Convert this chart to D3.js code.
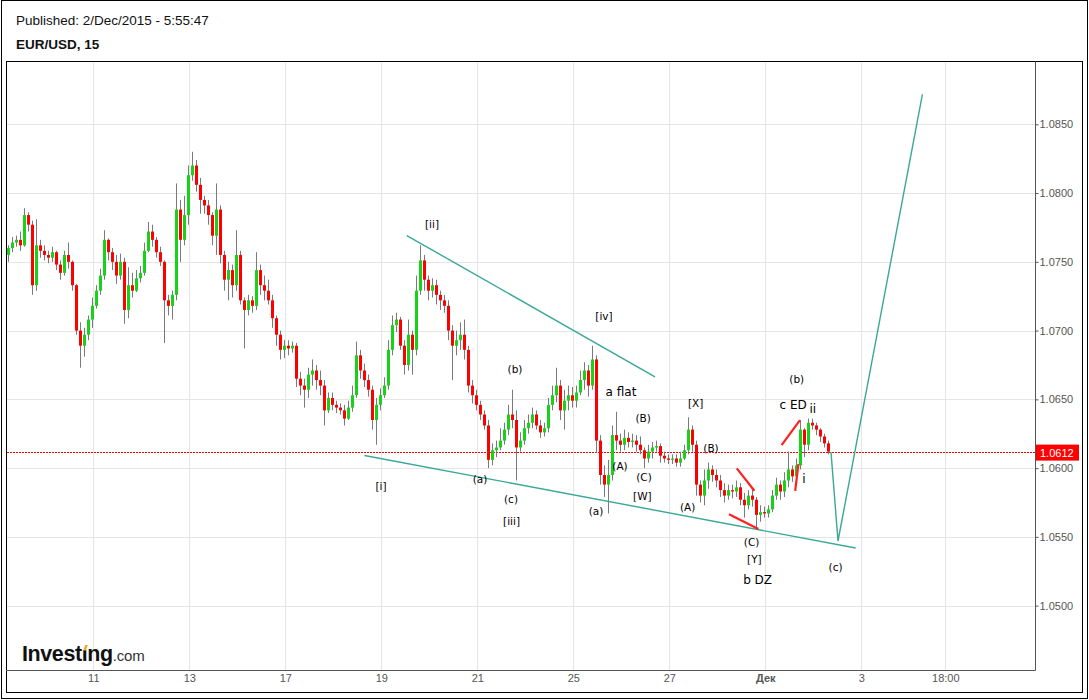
<!DOCTYPE html>
<html><head><meta charset="utf-8">
<script src="https://cdn.jsdelivr.net/npm/d3@7"></script>
<style>body{margin:0;background:#fff}svg{display:block}</style>
</head><body><svg id="c" width="1089" height="700"></svg>
<script>
// ---- DATA (EUR/USD; each bar = one slot) ----
const opens = [1.0755,1.0760,1.0764,1.0766,1.0762,1.0784,1.0777,1.0733,1.0762,1.0758,
1.0755,1.0753,1.0757,1.0748,1.0742,1.0755,1.0750,1.0733,1.0700,1.0689,
1.0697,1.0708,1.0718,1.0729,1.0740,1.0766,1.0757,1.0750,1.0740,1.0750,
1.0715,1.0733,1.0729,1.0738,1.0742,1.0758,1.0772,1.0766,1.0757,1.0750,
1.0722,1.0718,1.0726,1.0788,1.0766,1.0784,1.0813,1.0820,1.0806,1.0795,
1.0791,1.0784,1.0769,1.0788,1.0755,1.0737,1.0744,1.0733,1.0755,1.0722,
1.0715,1.0722,1.0718,1.0744,1.0733,1.0729,1.0722,1.0709,1.0697,1.0686,
1.0689,1.0687,1.0689,1.0665,1.0660,1.0657,1.0668,1.0671,1.0664,1.0660,
1.0642,1.0651,1.0646,1.0644,1.0642,1.0636,1.0644,1.0653,1.0682,1.0671,
1.0664,1.0657,1.0635,1.0646,1.0653,1.0660,1.0686,1.0704,1.0708,1.0689,
1.0675,1.0697,1.0686,1.0729,1.0751,1.0737,1.0729,1.0733,1.0726,1.0722,
1.0718,1.0700,1.0689,1.0693,1.0697,1.0686,1.0660,1.0653,1.0646,1.0639,
1.0631,1.0606,1.0613,1.0615,1.0620,1.0628,1.0639,1.0635,1.0615,1.0620,
1.0629,1.0633,1.0639,1.0631,1.0626,1.0629,1.0646,1.0653,1.0660,1.0642,
1.0649,1.0653,1.0649,1.0655,1.0664,1.0671,1.0660,1.0679,1.0620,1.0595,
1.0588,1.0595,1.0624,1.0620,1.0617,1.0622,1.0619,1.0620,1.0617,1.0613,
1.0607,1.0612,1.0615,1.0616,1.0609,1.0607,1.0606,1.0607,1.0604,1.0607,
1.0613,1.0628,1.0617,1.0588,1.0580,1.0591,1.0599,1.0595,1.0591,1.0584,
1.0580,1.0584,1.0583,1.0586,1.0577,1.0573,1.0580,1.0577,1.0566,1.0568,
1.0567,1.0570,1.0580,1.0588,1.0583,1.0591,1.0599,1.0594,1.0602,1.0628,
1.0617,1.0633,1.0631,1.0628,1.0623,1.0618];
const highs = [1.0762,1.0768,1.0769,1.0772,1.0789,1.0786,1.0780,1.0781,1.0766,1.0762,
1.0758,1.0761,1.0758,1.0751,1.0758,1.0764,1.0751,1.0734,1.0706,1.0702,
1.0711,1.0724,1.0733,1.0745,1.0773,1.0767,1.0760,1.0755,1.0756,1.0753,
1.0746,1.0742,1.0744,1.0747,1.0764,1.0779,1.0777,1.0768,1.0761,1.0751,
1.0726,1.0729,1.0807,1.0795,1.0798,1.0820,1.0830,1.0824,1.0811,1.0798,
1.0795,1.0786,1.0807,1.0791,1.0758,1.0750,1.0748,1.0773,1.0758,1.0724,
1.0726,1.0725,1.0757,1.0748,1.0740,1.0737,1.0726,1.0711,1.0700,1.0693,
1.0693,1.0692,1.0691,1.0670,1.0665,1.0673,1.0679,1.0675,1.0671,1.0664,
1.0655,1.0655,1.0649,1.0647,1.0646,1.0649,1.0660,1.0692,1.0686,1.0676,
1.0668,1.0660,1.0651,1.0658,1.0666,1.0693,1.0711,1.0713,1.0710,1.0693,
1.0708,1.0700,1.0740,1.0762,1.0755,1.0740,1.0738,1.0737,1.0729,1.0726,
1.0722,1.0704,1.0700,1.0706,1.0708,1.0689,1.0664,1.0657,1.0649,1.0642,
1.0635,1.0618,1.0620,1.0629,1.0633,1.0646,1.0657,1.0642,1.0626,1.0635,
1.0639,1.0644,1.0642,1.0635,1.0633,1.0651,1.0660,1.0673,1.0664,1.0657,
1.0660,1.0659,1.0660,1.0671,1.0677,1.0675,1.0689,1.0682,1.0624,1.0602,
1.0606,1.0631,1.0641,1.0625,1.0628,1.0626,1.0625,1.0624,1.0623,1.0615,
1.0617,1.0619,1.0620,1.0618,1.0612,1.0610,1.0610,1.0610,1.0612,1.0617,
1.0637,1.0631,1.0620,1.0591,1.0599,1.0604,1.0602,1.0599,1.0595,1.0589,
1.0588,1.0588,1.0591,1.0589,1.0582,1.0584,1.0585,1.0579,1.0573,1.0572,
1.0573,1.0584,1.0593,1.0591,1.0597,1.0612,1.0602,1.0607,1.0635,1.0629,
1.0636,1.0636,1.0633,1.0629,1.0625,1.0620];
const lows = [1.0750,1.0757,1.0761,1.0758,1.0761,1.0772,1.0726,1.0729,1.0753,1.0751,
1.0749,1.0750,1.0744,1.0737,1.0740,1.0745,1.0729,1.0697,1.0673,1.0681,
1.0693,1.0702,1.0716,1.0726,1.0737,1.0751,1.0744,1.0734,1.0737,1.0705,
1.0709,1.0724,1.0728,1.0735,1.0740,1.0757,1.0761,1.0753,1.0747,1.0691,
1.0711,1.0708,1.0722,1.0750,1.0762,1.0777,1.0809,1.0801,1.0785,1.0785,
1.0777,1.0762,1.0755,1.0749,1.0729,1.0722,1.0724,1.0729,1.0719,1.0687,
1.0711,1.0713,1.0715,1.0726,1.0722,1.0719,1.0702,1.0689,1.0679,1.0680,
1.0682,1.0684,1.0659,1.0653,1.0644,1.0651,1.0660,1.0657,1.0653,1.0631,
1.0640,1.0642,1.0640,1.0639,1.0631,1.0635,1.0641,1.0651,1.0665,1.0659,
1.0652,1.0628,1.0617,1.0642,1.0651,1.0657,1.0682,1.0699,1.0686,1.0668,
1.0671,1.0668,1.0682,1.0726,1.0729,1.0722,1.0724,1.0719,1.0715,1.0713,
1.0693,1.0664,1.0682,1.0686,1.0679,1.0655,1.0647,1.0642,1.0635,1.0628,
1.0600,1.0602,1.0608,1.0613,1.0617,1.0624,1.0629,1.0591,1.0612,1.0617,
1.0625,1.0629,1.0628,1.0622,1.0623,1.0626,1.0642,1.0648,1.0635,1.0628,
1.0642,1.0644,1.0644,1.0653,1.0657,1.0652,1.0657,1.0611,1.0588,1.0579,
1.0567,1.0591,1.0613,1.0612,1.0613,1.0615,1.0615,1.0612,1.0610,1.0600,
1.0604,1.0607,1.0612,1.0604,1.0604,1.0603,1.0603,1.0601,1.0601,1.0606,
1.0610,1.0612,1.0580,1.0575,1.0573,1.0585,1.0590,1.0586,1.0579,1.0575,
1.0577,1.0578,1.0579,1.0573,1.0564,1.0570,1.0572,1.0557,1.0561,1.0564,
1.0564,1.0568,1.0577,1.0577,1.0579,1.0586,1.0590,1.0591,1.0599,1.0608,
1.0613,1.0628,1.0624,1.0619,1.0615,1.0610];
const closes = [1.0760,1.0764,1.0766,1.0762,1.0784,1.0777,1.0733,1.0762,1.0758,1.0755,
1.0753,1.0757,1.0748,1.0742,1.0755,1.0750,1.0733,1.0700,1.0689,1.0697,
1.0708,1.0718,1.0729,1.0740,1.0766,1.0757,1.0750,1.0740,1.0750,1.0715,
1.0733,1.0729,1.0738,1.0742,1.0758,1.0772,1.0766,1.0757,1.0750,1.0722,
1.0718,1.0726,1.0788,1.0766,1.0784,1.0813,1.0820,1.0806,1.0795,1.0791,
1.0784,1.0769,1.0788,1.0755,1.0737,1.0744,1.0733,1.0755,1.0722,1.0715,
1.0722,1.0718,1.0744,1.0733,1.0729,1.0722,1.0709,1.0697,1.0686,1.0689,
1.0687,1.0689,1.0665,1.0660,1.0657,1.0668,1.0671,1.0664,1.0660,1.0642,
1.0651,1.0646,1.0644,1.0642,1.0636,1.0644,1.0653,1.0682,1.0671,1.0664,
1.0657,1.0635,1.0646,1.0653,1.0660,1.0686,1.0704,1.0708,1.0689,1.0675,
1.0697,1.0686,1.0729,1.0751,1.0737,1.0729,1.0733,1.0726,1.0722,1.0718,
1.0700,1.0689,1.0693,1.0697,1.0686,1.0660,1.0653,1.0646,1.0639,1.0631,
1.0606,1.0613,1.0615,1.0620,1.0628,1.0639,1.0635,1.0615,1.0620,1.0629,
1.0633,1.0639,1.0631,1.0626,1.0629,1.0646,1.0653,1.0660,1.0642,1.0649,
1.0653,1.0649,1.0655,1.0664,1.0671,1.0660,1.0679,1.0620,1.0595,1.0588,
1.0595,1.0624,1.0620,1.0617,1.0622,1.0619,1.0620,1.0617,1.0613,1.0607,
1.0612,1.0615,1.0616,1.0609,1.0607,1.0606,1.0607,1.0604,1.0607,1.0613,
1.0628,1.0617,1.0588,1.0580,1.0591,1.0599,1.0595,1.0591,1.0584,1.0580,
1.0584,1.0583,1.0586,1.0577,1.0573,1.0580,1.0577,1.0566,1.0568,1.0567,
1.0570,1.0580,1.0588,1.0583,1.0591,1.0599,1.0594,1.0602,1.0628,1.0617,
1.0633,1.0631,1.0628,1.0623,1.0618,1.0612];

const priceTicks = [1.0500,1.0550,1.0600,1.0650,1.0700,1.0750,1.0800,1.0850];
const dateTickSlots = [21.33,45.33,69.33,93.33,117.33,141.33,165.33,189.33,213.33,234.33];
const dateTickLabels = ["11","13","17","19","21","25","27","Дек","3","18:00"];
const lastPrice = 1.0612;

// annotation drawings (slot, price)
const tealLines = [
  [[99.7,1.07691],[161.75,1.06664]],
  [[89.1,1.06092],[211.9,1.05419]],
  [[205.75,1.06116],[207.5,1.05470],[228.6,1.08718]]
];
const redLines = [
  [[182.2,1.05998],[186.6,1.05835]],
  [[180.25,1.05664],[187.6,1.05557]],
  [[193.4,1.06167],[198.0,1.06349]],
  [[196.8,1.05835],[197.6,1.06029]]
];
const waveLabels = ["[ii]","[iv]","(b)","a flat","(B)","[X]","(b)","c ED","ii","(B)","[i]","(a)","(A)","(C)","(c)","[W]","(A)","[iii]","(a)","(C)","[Y]","b DZ","i","(c)"];
const waveSlots  = [106,149,126.75,153.25,158.8,171.9,197.2,196.3,201.2,175.75,93.25,118,153,159,125.75,158.6,169.9,125.9,147,185.9,186.6,187.4,199,206.9];
const wavePrices = [1.07773,1.07105,1.06720,1.06555,1.06361,1.06477,1.06647,1.06458,1.06427,1.06148,1.05869,1.05918,1.06015,1.05932,1.05775,1.05799,1.05719,1.05617,1.05688,1.05465,1.05337,1.05186,1.05918,1.05278];
const bigLabels = new Set(["a flat","c ED","ii","b DZ","i"]);

// ---- DRAW ----
const svg = d3.select("#c");
const L = 6, R = 1035.5, T = 61.5, B = 670.5;
const x = d3.scaleLinear().domain([-0.5, 256.875]).range([L, R]);
const y = d3.scaleLinear().domain([1.04532, 1.08953]).range([670, 62]);
const sans = "'Liberation Sans', Arial, sans-serif";
const dv = "'DejaVu Sans', Verdana, sans-serif";

svg.append("rect").attr("width",1089).attr("height",700).attr("fill","#fff");
svg.append("rect").attr("x",1.5).attr("y",0.5).attr("width",1086).attr("height",698)
  .attr("fill","none").attr("stroke","#000");
svg.append("rect").attr("x",6.5).attr("y",61.5).attr("width",1076).attr("height",631)
  .attr("fill","none").attr("stroke","#000");

svg.append("text").attr("x",16).attr("y",25).attr("font-family",sans).attr("font-size",13.5)
  .attr("fill","#111").text("Published: 2/Dec/2015 - 5:55:47");
svg.append("text").attr("x",16).attr("y",49).attr("font-family",sans).attr("font-size",13.5)
  .attr("font-weight","bold").attr("fill","#111").text("EUR/USD, 15");

const grid = svg.append("g").attr("stroke","#e5e5e5").attr("stroke-width",1);
priceTicks.forEach(p => {
  const yy = Math.round(y(p)) + 0.5;
  grid.append("line").attr("x1",L+1).attr("x2",R).attr("y1",yy).attr("y2",yy);
});
dateTickSlots.forEach(s => {
  const xx = Math.round(x(s)) + 0.5;
  grid.append("line").attr("x1",xx).attr("x2",xx).attr("y1",T+1).attr("y2",B);
});

const yl = Math.round(y(lastPrice)) + 0.5;
svg.append("line").attr("x1",L+1).attr("x2",R).attr("y1",yl).attr("y2",yl)
  .attr("stroke","#ff0000").attr("stroke-width",1).attr("stroke-dasharray","2,1");

const idx = d3.range(opens.length);
const cg = svg.append("g");
cg.selectAll("line.w").data(idx).join("line")
  .attr("x1", i => Math.round(x(i)) + 0.5).attr("x2", i => Math.round(x(i)) + 0.5)
  .attr("y1", i => y(highs[i])).attr("y2", i => y(lows[i]))
  .attr("stroke","#7a7a7a").attr("stroke-width",1);
cg.selectAll("rect.b").data(idx).join("rect")
  .attr("x", i => Math.round(x(i)) - 1).attr("width", 3)
  .attr("y", i => y(Math.max(opens[i], closes[i])))
  .attr("height", i => Math.max(1, Math.abs(y(opens[i]) - y(closes[i]))))
  .attr("fill", i => closes[i] >= opens[i] ? "#17d317" : "#ff0000");

const line = d3.line().x(d => x(d[0])).y(d => y(d[1]));
tealLines.forEach(pts => svg.append("path").attr("d", line(pts))
  .attr("fill","none").attr("stroke","#3aa896").attr("stroke-width",1.4));
redLines.forEach(pts => svg.append("path").attr("d", line(pts))
  .attr("fill","none").attr("stroke","#ff2020").attr("stroke-width",2.2));

waveLabels.forEach((t, k) => {
  svg.append("text").attr("x", x(waveSlots[k])).attr("y", y(wavePrices[k]))
    .attr("text-anchor","middle").attr("dominant-baseline","central")
    .attr("font-family", dv).attr("font-size", bigLabels.has(t) ? 12 : 10.5)
    .attr("fill","#000").text(t);
});

const yAxis = d3.axisRight(y).tickValues(priceTicks).tickFormat(d3.format(".4f"))
  .tickSize(3).tickPadding(1).tickSizeOuter(0);
const ya = svg.append("g").attr("transform", `translate(${R},0)`).call(yAxis);
ya.select(".domain").remove();
ya.selectAll(".tick line").attr("stroke","#555");
ya.selectAll("text").attr("font-family",sans).attr("font-size",11).attr("fill","#555");
svg.append("line").attr("x1",R).attr("x2",R).attr("y1",T).attr("y2",B).attr("stroke","#555");

const xAxis = d3.axisBottom(x).tickValues(dateTickSlots).tickFormat((d,i) => dateTickLabels[i])
  .tickSize(0).tickPadding(4).tickSizeOuter(0);
const xa = svg.append("g").attr("transform", `translate(0,${B})`).call(xAxis);
xa.select(".domain").remove();
xa.selectAll("text").attr("font-family",sans).attr("font-size",11).attr("fill","#555")
  .attr("font-weight", d => dateTickLabels[dateTickSlots.indexOf(d)] === "Дек" ? "bold" : null);
svg.append("line").attr("x1",L).attr("x2",R).attr("y1",B).attr("y2",B).attr("stroke","#555");

const yc = y(lastPrice);
svg.append("rect").attr("x",R+0.5).attr("y",yc-7).attr("width",43).attr("height",16).attr("fill","#ff0000");
svg.append("text").attr("x",R+4.5).attr("y",yc+1).attr("dominant-baseline","central")
  .attr("font-family",sans).attr("font-size",11).attr("fill","#fff").text(d3.format(".4f")(lastPrice));

const logo = svg.append("text").attr("x",22).attr("y",661).attr("font-family",sans)
  .attr("font-size",21.5).attr("font-weight","bold").attr("letter-spacing","-0.4").attr("fill","#111");
logo.append("tspan").text("Investing");
logo.append("tspan").attr("font-size",15).attr("font-weight","normal").attr("letter-spacing","-0.2").attr("fill","#333").text(".com");
try {
  const ext = logo.node().getExtentOfChar(6);
  svg.append("rect").attr("x", ext.x + 0.5).attr("y", ext.y + 3).attr("width", ext.width - 1).attr("height", 5).attr("fill","#fff");
  svg.append("path").attr("d", `M${ext.x+1.5},${ext.y+8.5} L${ext.x+3.5},${ext.y+3} L${ext.x+ext.width+0.5},${ext.y+3} L${ext.x+ext.width-1.5},${ext.y+8.5}Z`).attr("fill","#f5a623");
} catch(e) {}
</script></body></html>
